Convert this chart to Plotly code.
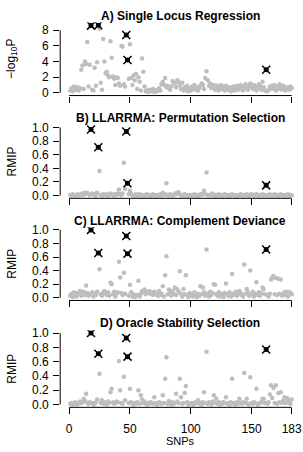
import plotly.graph_objects as go

# ---------------- data ----------------
snps = list(range(1, 184))
causal = [18, 24, 47, 48, 162]
x_ticks = [0, 50, 100, 150, 183]

slr = [
    0.3, 0.6, 0.2, 0.8, 0.4, 0.5, 0.7, 0.3, 0.6, 2.95,
    3.5, 0.5, 4.0, 3.7, 6.5, 0.8, 3.6, 8.6, 0.4, 0.3,
    3.2, 0.9, 3.9, 8.65, 8.2, 1.3, 0.4, 6.9, 4.0, 2.5,
    2.7, 2.2, 2.0, 6.6, 4.5, 2.1, 1.8, 1.0, 2.0, 1.9,
    1.2, 0.9, 6.0, 5.9, 1.1, 0.8, 7.4, 4.2, 1.8, 6.2,
    1.9, 1.0, 2.2, 1.6, 2.4, 0.5, 2.0, 1.4, 0.3, 4.4,
    2.7, 0.8, 0.2, 0.3, 0.1, 0.4, 0.2, 0.3, 0.5, 0.1,
    0.3, 0.2, 0.4, 0.6, 0.3, 1.1, 1.4, 1.0, 1.9, 0.7,
    0.9, 0.6, 0.4, 0.8, 1.5, 1.3, 1.2, 0.7, 1.6, 1.4,
    1.0, 0.5, 1.3, 0.3, 0.7, 0.4, 0.9, 0.2, 0.6, 0.3,
    0.8, 0.5, 1.0, 0.4, 0.7, 0.3, 0.6, 0.9, 1.2, 1.0,
    0.5, 1.9, 2.75, 1.6, 0.9, 1.2, 0.6, 0.8, 1.0, 0.4,
    0.7, 0.9, 0.3, 0.6, 1.0, 0.5, 0.8, 0.3, 0.9, 0.6,
    0.4, 0.7, 0.2, 0.5, 0.8, 0.3, 0.6, 0.9, 0.4, 0.7,
    1.0, 0.5, 0.3, 0.8, 1.1, 0.6, 0.4, 0.9, 1.2, 0.7,
    0.5, 1.0, 0.8, 0.3, 0.6, 1.1, 0.9, 0.4, 1.4, 0.7,
    0.3, 2.95, 0.2, 0.4, 0.8, 0.5, 0.9, 0.6, 1.0, 0.3,
    0.7, 0.5, 1.1, 0.8, 0.4, 0.9, 0.6, 0.3, 0.7, 0.5,
    0.4, 0.8, 0.6,
]

perm = [
    0.01, 0.0, 0.02, 0.01, 0.0, 0.01, 0.02, 0.0, 0.01, 0.02,
    0.03, 0.01, 0.04, 0.03, 0.04, 0.02, 0.01, 0.97, 0.03, 0.02,
    0.01, 0.0, 0.04, 0.71, 0.36, 0.01, 0.0, 0.02, 0.01, 0.01,
    0.02, 0.0, 0.01, 0.03, 0.02, 0.01, 0.0, 0.02, 0.01, 0.03,
    0.09, 0.02, 0.01, 0.03, 0.48, 0.1, 0.94, 0.18, 0.02, 0.07,
    0.02, 0.01, 0.0, 0.01, 0.02, 0.0, 0.01, 0.02, 0.0, 0.01,
    0.0, 0.01, 0.0, 0.02, 0.01, 0.0, 0.01, 0.0, 0.02, 0.01,
    0.0, 0.01, 0.0, 0.01, 0.02, 0.0, 0.04, 0.01, 0.02, 0.18,
    0.01, 0.0, 0.02, 0.01, 0.0, 0.01, 0.03, 0.02, 0.04, 0.05,
    0.02, 0.01, 0.0, 0.01, 0.02, 0.0, 0.01, 0.0, 0.01, 0.0,
    0.01, 0.0, 0.02, 0.01, 0.0, 0.01, 0.0, 0.02, 0.01, 0.03,
    0.07, 0.02, 0.34, 0.01, 0.0, 0.01, 0.02, 0.03, 0.0, 0.01,
    0.0, 0.01, 0.02, 0.0, 0.01, 0.0, 0.01, 0.02, 0.0, 0.01,
    0.0, 0.01, 0.0, 0.02, 0.01, 0.0, 0.01, 0.0, 0.0, 0.01,
    0.02, 0.0, 0.01, 0.0, 0.01, 0.02, 0.0, 0.01, 0.0, 0.02,
    0.01, 0.0, 0.01, 0.02, 0.0, 0.01, 0.0, 0.01, 0.02, 0.0,
    0.01, 0.15, 0.0, 0.01, 0.02, 0.0, 0.01, 0.0, 0.02, 0.01,
    0.0, 0.01, 0.0, 0.02, 0.01, 0.0, 0.01, 0.0, 0.01, 0.02,
    0.0, 0.01, 0.0,
]

comp = [
    0.03, 0.06, 0.01, 0.08, 0.04, 0.02, 0.07, 0.05, 0.1, 0.03,
    0.06, 0.09, 0.04, 0.18, 0.07, 0.03, 0.05, 1.0, 0.08, 0.02,
    0.06, 0.04, 0.09, 0.66, 0.42, 0.05, 0.03, 0.07, 0.1, 0.06,
    0.04, 0.08, 0.03, 0.22, 0.2, 0.05, 0.09, 0.02, 0.06, 0.08,
    0.53, 0.3, 0.07, 0.04, 0.37, 0.06, 0.91, 0.65, 0.03, 0.19,
    0.08, 0.02, 0.05, 0.01, 0.03, 0.04, 0.25, 0.02, 0.06, 0.1,
    0.08, 0.12, 0.05, 0.09, 0.07, 0.1, 0.06, 0.08, 0.04, 0.09,
    0.05, 0.07, 0.03, 0.1, 0.04, 0.06, 0.17, 0.02, 0.33, 0.61,
    0.05, 0.12, 0.08, 0.03, 0.1, 0.06, 0.15, 0.04, 0.12, 0.09,
    0.39, 0.06, 0.02, 0.13, 0.05, 0.33, 0.04, 0.01, 0.07, 0.03,
    0.05, 0.02, 0.08, 0.04, 0.01, 0.06, 0.03, 0.17, 0.05, 0.15,
    0.08, 0.03, 0.71, 0.06, 0.02, 0.09, 0.04, 0.07, 0.2, 0.19,
    0.05, 0.03, 0.08, 0.02, 0.06, 0.04, 0.01, 0.07, 0.21, 0.05,
    0.03, 0.08, 0.02, 0.35, 0.06, 0.04, 0.09, 0.03, 0.05, 0.1,
    0.07, 0.04, 0.02, 0.49, 0.06, 0.13, 0.08, 0.03, 0.4, 0.05,
    0.09, 0.02, 0.06, 0.23, 0.04, 0.08, 0.03, 0.07, 0.15, 0.13,
    0.05, 0.71, 0.04, 0.02, 0.06, 0.27, 0.3, 0.32, 0.05, 0.29,
    0.04, 0.28, 0.06, 0.27, 0.03, 0.05, 0.08, 0.04, 0.09, 0.02,
    0.08, 0.07, 0.05,
]

oracle = [
    0.01, 0.02, 0.0, 0.01, 0.03, 0.0, 0.02, 0.01, 0.04, 0.02,
    0.03, 0.08, 0.05, 0.15, 0.02, 0.01, 0.03, 1.0, 0.02, 0.0,
    0.01, 0.03, 0.07, 0.71, 0.43, 0.02, 0.06, 0.01, 0.03, 0.02,
    0.0, 0.04, 0.02, 0.17, 0.22, 0.03, 0.01, 0.02, 0.04, 0.03,
    0.61, 0.2, 0.02, 0.01, 0.39, 0.06, 0.93, 0.67, 0.02, 0.22,
    0.03, 0.01, 0.0, 0.02, 0.01, 0.03, 0.2, 0.01, 0.13, 0.07,
    0.02, 0.04, 0.01, 0.0, 0.02, 0.01, 0.03, 0.02, 0.01, 0.1,
    0.02, 0.0, 0.01, 0.03, 0.02, 0.01, 0.13, 0.02, 0.36, 0.66,
    0.01, 0.05, 0.02, 0.0, 0.03, 0.01, 0.02, 0.15, 0.04, 0.02,
    0.36, 0.1, 0.01, 0.02, 0.16, 0.26, 0.03, 0.0, 0.02, 0.01,
    0.02, 0.0, 0.01, 0.03, 0.02, 0.06, 0.01, 0.02, 0.0, 0.03,
    0.17, 0.02, 0.74, 0.01, 0.03, 0.02, 0.0, 0.04, 0.13, 0.02,
    0.08, 0.01, 0.03, 0.0, 0.02, 0.01, 0.03, 0.02, 0.1, 0.01,
    0.02, 0.0, 0.03, 0.36, 0.01, 0.02, 0.0, 0.03, 0.01, 0.08,
    0.02, 0.01, 0.03, 0.44, 0.02, 0.08, 0.01, 0.0, 0.38, 0.02,
    0.01, 0.03, 0.02, 0.22, 0.0, 0.01, 0.02, 0.03, 0.08, 0.08,
    0.02, 0.77, 0.01, 0.03, 0.14, 0.27, 0.09, 0.23, 0.02, 0.27,
    0.01, 0.16, 0.03, 0.17, 0.02, 0.05, 0.1, 0.02, 0.09, 0.07,
    0.02, 0.01, 0.07,
]

panel_values = [slr, perm, comp, oracle]
panel_titles = [
    "A) Single Locus Regression",
    "B) LLARRMA: Permutation Selection",
    "C) LLARRMA: Complement Deviance",
    "D) Oracle Stability Selection",
]
y_titles = ["\u2212log<sub>10</sub>P", "RMIP", "RMIP", "RMIP"]
y_ticks = [[0, 2, 4, 6, 8], [0, 0.2, 0.4, 0.6, 0.8, 1.0],
           [0, 0.2, 0.4, 0.6, 0.8, 1.0], [0, 0.2, 0.4, 0.6, 0.8, 1.0]]
x_title = "SNPs"

for v in panel_values:
    assert len(v) == len(snps)

# ---------------- layout geometry (pixels) ----------------
W, H = 303, 452
plot_left, plot_right = 60.4, 301.6
panel_px = [(18.8, 93.2), (122.9, 197.8), (227.2, 301.8), (332.1, 410.6)]
y_ranges = [[-0.35, 9.0], [-0.04, 1.04], [-0.04, 1.04], [-0.04, 1.04]]
title_py = [12, 116, 221, 324.5]
x_range = [-7.32, 190.32]

FONT = "Liberation Sans, Arial, Helvetica, sans-serif"
GREY = "#BEBEBE"

fig = go.Figure()
layout = dict(
    width=W, height=H,
    margin=dict(l=0, r=0, t=0, b=0),
    paper_bgcolor="white", plot_bgcolor="white",
    showlegend=False,
    font=dict(family=FONT, size=12, color="black"),
)
shapes = []
annotations = []

for i, vals in enumerate(panel_values):
    n = i + 1
    xa = "x" if n == 1 else f"x{n}"
    ya = "y" if n == 1 else f"y{n}"
    top, bot = panel_px[i]
    ydom = [1 - bot / H, 1 - top / H]
    xdom = [plot_left / W, plot_right / W]
    last = (i == 3)
    layout["xaxis" if n == 1 else f"xaxis{n}"] = dict(
        domain=xdom, range=x_range, anchor=ya,
        tickmode="array", tickvals=x_ticks,
        ticktext=[str(t) for t in x_ticks],
        showticklabels=last, ticks="outside", ticklen=6, tickwidth=1,
        tickcolor="black", showline=False, showgrid=False, zeroline=False,
        ticklabeloverflow="allow", ticklabelstandoff=4,
        tickfont=dict(size=12, family=FONT, color="black"),
    )
    yt = y_ticks[i]
    layout["yaxis" if n == 1 else f"yaxis{n}"] = dict(
        domain=ydom, range=y_ranges[i], anchor=xa,
        tickmode="array", tickvals=yt,
        ticktext=[str(t) if i == 0 else f"{t:.1f}" for t in yt],
        ticks="outside", ticklen=6, tickwidth=1, tickcolor="black",
        showline=False, showgrid=False, zeroline=False,
        ticklabeloverflow="allow", ticklabelstandoff=2,
        tickfont=dict(size=12, family=FONT, color="black"),
    )
    # R-style axis lines spanning first to last tick
    shapes.append(dict(type="line", xref=xa, yref=f"{ya} domain",
                       x0=x_ticks[0], x1=x_ticks[-1], y0=0, y1=0,
                       line=dict(color="black", width=1)))
    shapes.append(dict(type="line", xref=f"{xa} domain", yref=ya,
                       x0=0, x1=0, y0=yt[0], y1=yt[-1],
                       line=dict(color="black", width=1)))

    fig.add_trace(go.Scatter(
        x=snps, y=vals, mode="markers", xaxis=xa, yaxis=ya,
        marker=dict(color=GREY, size=4.5, line=dict(width=0)),
        hoverinfo="skip"))
    cx = [snps[c - 1] for c in causal]
    cy = [vals[c - 1] for c in causal]
    fig.add_trace(go.Scatter(
        x=cx, y=cy, mode="markers", xaxis=xa, yaxis=ya,
        marker=dict(color="black", size=5, line=dict(width=0)),
        hoverinfo="skip"))
    fig.add_trace(go.Scatter(
        x=cx, y=cy, mode="markers", xaxis=xa, yaxis=ya,
        marker=dict(symbol="x-thin-open", color="black", size=8,
                    line=dict(width=1.5, color="black")),
        hoverinfo="skip"))

    annotations.append(dict(
        text=f"<b>{panel_titles[i]}</b>", xref="paper", yref="paper",
        x=(plot_left + plot_right) / 2 / W, y=1 - title_py[i] / H,
        xanchor="center", yanchor="middle", showarrow=False,
        font=dict(size=12, family=FONT, color="black")))
    annotations.append(dict(
        text=y_titles[i], xref="paper", yref="paper",
        x=12 / W, y=1 - (top + bot) / 2 / H, textangle=-90,
        xanchor="center", yanchor="middle", showarrow=False,
        font=dict(size=12, family=FONT, color="black")))

annotations.append(dict(
    text=x_title, xref="paper", yref="paper",
    x=(plot_left + plot_right) / 2 / W, y=0,
    xanchor="center", yanchor="bottom", showarrow=False,
    borderpad=0,
    font=dict(size=11, family=FONT, color="black")))

layout["shapes"] = shapes
layout["annotations"] = annotations
fig.update_layout(**layout)
fig.write_html("out.html")
